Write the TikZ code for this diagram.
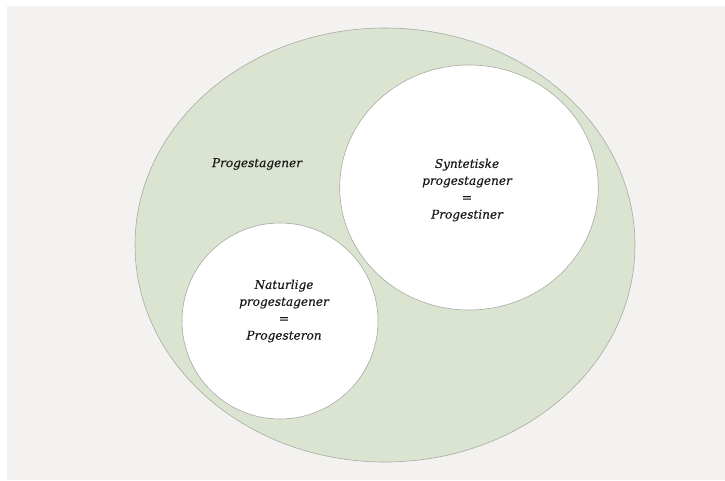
\documentclass[tikz,border=0pt]{standalone}
\usepackage{fontspec}
\usetikzlibrary{shapes.geometric}
\setmainfont{DejaVu Serif}[ItalicFeatures={FakeBold=0.4}]
\definecolor{bgc}{HTML}{F3F2F1}
\definecolor{greenc}{HTML}{DAE4D1}
\definecolor{linec}{HTML}{A8ABA4}
\definecolor{textc}{HTML}{1A1A1A}
\begin{document}
\begin{tikzpicture}[x=1pt,y=-1pt,
  blob/.style={draw=linec, line width=0.6pt, ellipse, inner sep=0pt},
  lbl/.style={align=center, font=\fontsize{12.1}{16.9}\selectfont\itshape, text=textc, inner sep=0pt}]
\useasboundingbox (0,0) rectangle (725,480);
\fill[white] (0,0) rectangle (725,480);
\fill[bgc] (7,6) rectangle (725,480);
\node[blob, fill=greenc, minimum width=500, minimum height=434] (outer) at (385,245) {};
\node[blob, fill=white, minimum width=258.6, minimum height=245] (syn) at (469,187.5) {};
\node[blob, fill=white, minimum width=196, minimum height=196] (nat) at (280,321) {};
\node[lbl] (lprog) at (257,164) {Progestagener};
\node[lbl] (lsyn) at (467,190) {Syntetiske\\progestagener\\=\\Progestiner};
\node[lbl] (lnat) at (284,311) {Naturlige\\progestagener\\=\\Progesteron};
\end{tikzpicture}
\end{document}
